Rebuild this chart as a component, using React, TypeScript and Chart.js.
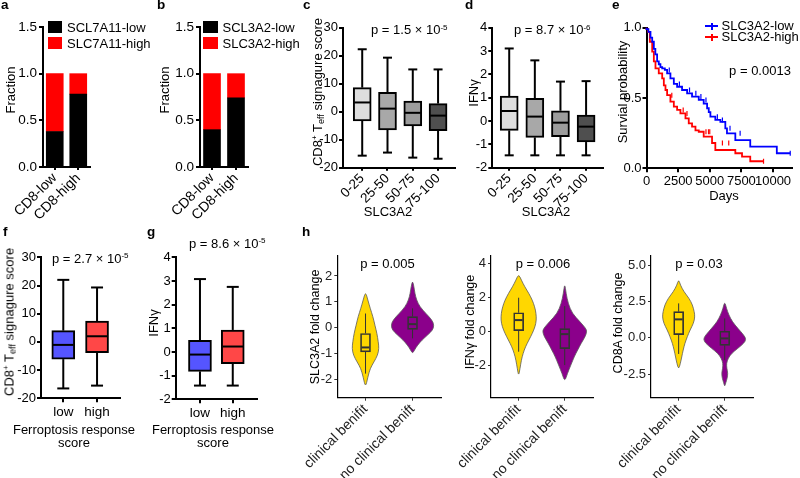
import React, { useEffect, useRef } from 'react';
import { Chart, registerables } from 'chart.js';

Chart.register(...registerables);

const FONT = 'Arial, "Liberation Sans", Helvetica, sans-serif';
Chart.defaults.font.family = FONT;
Chart.defaults.font.size = 13;
Chart.defaults.color = '#000';

// ---------- panel a / b ----------
const abCategories = ['CD8-low', 'CD8-high'];
const aLowFraction = [0.38, 0.78];
const aHighFraction = [0.62, 0.22];
const bLowFraction = [0.4, 0.74];
const bHighFraction = [0.6, 0.26];
const fractionTicks = [0, 0.5, 1, 1.5];

// ---------- panel c / d ----------
const slcGroups = ['0-25', '25-50', '50-75', '75-100'];
const slcPositions = [0, 1, 2, 3];
const cMin = [-15.7, -14.6, -16.4, -16.8];
const cQ1 = [-3.3, -6.5, -5.1, -6.8];
const cMedian = [3.3, 1.1, -0.4, -1.4];
const cQ3 = [8.6, 6.9, 3.8, 2.9];
const cMax = [22.3, 19.3, 15.1, 15.1];
const cTicks = [-20, -10, 0, 10, 20, 30];
const dMin = [-1.47, -1.47, -1.47, -1.47];
const dQ1 = [-0.4, -0.7, -0.67, -0.9];
const dMedian = [0.43, 0.19, -0.07, -0.24];
const dQ3 = [1.07, 0.97, 0.44, 0.26];
const dMax = [3.11, 2.6, 1.69, 1.71];
const dTicks = [-2, -1, 0, 1, 2, 3, 4];
const slcFills = ['#dedede', '#a8a8a8', '#9c9c9c', '#4f4f4f'];

// ---------- panel e ----------
const kmLowDays = [0, 150, 315, 450, 580, 700, 840, 970, 1100, 1240, 1450, 1630, 1890, 2160, 2420, 2810, 3210, 3600, 4130, 4520, 4790, 4920, 5050, 5440, 5840, 6230, 6360, 7020, 8200, 10300, 10800, 11360];
const kmLowSurv = [1, 0.99, 0.97, 0.93, 0.9, 0.85, 0.81, 0.76, 0.74, 0.72, 0.71, 0.7, 0.675, 0.64, 0.6, 0.58, 0.557, 0.533, 0.51, 0.486, 0.46, 0.427, 0.4, 0.367, 0.344, 0.33, 0.284, 0.249, 0.2, 0.154, 0.107, 0.107];
const kmHighDays = [0, 130, 263, 450, 580, 710, 970, 1240, 1370, 1500, 1630, 1890, 2160, 2420, 2680, 3080, 3340, 3600, 3870, 4130, 4520, 5180, 5440, 7020, 7550, 8200, 9200, 9250];
const kmHighSurv = [1, 0.99, 0.97, 0.9, 0.83, 0.76, 0.71, 0.675, 0.64, 0.59, 0.557, 0.52, 0.474, 0.438, 0.415, 0.39, 0.355, 0.32, 0.296, 0.27, 0.26, 0.225, 0.18, 0.13, 0.107, 0.083, 0.05, 0.05];
const kmLowCensorDays = [1800, 2600, 3400, 3900, 4300, 4700, 5600, 6000, 6600, 7400, 11360];
const kmLowCensorSurv = [0.7, 0.6, 0.557, 0.533, 0.51, 0.486, 0.367, 0.344, 0.284, 0.249, 0.107];
const kmHighCensorDays = [2000, 2900, 3200, 4700, 4900, 5000, 6000, 6500, 9250];
const kmHighCensorSurv = [0.52, 0.415, 0.39, 0.26, 0.26, 0.26, 0.18, 0.18, 0.05];
const daysTicks = [0, 2500, 5000, 7500, 10000];
const survTicks = [0, 0.5, 1];

// ---------- panel f / g ----------
const ferroGroups = ['low', 'high'];
const ferroPositions = [0, 1];
const fMin = [-16.5, -15.5];
const fQ1 = [-6.1, -3.8];
const fMedian = [-1.06, 2.0];
const fQ3 = [4.0, 7.4];
const fMax = [22, 19.3];
const gMin = [-1.42, -1.42];
const gQ1 = [-0.82, -0.49];
const gMedian = [-0.11, 0.23];
const gQ3 = [0.49, 0.93];
const gMax = [3.08, 2.75];
const ferroFills = ['#5555ff', '#ff4747'];

// ---------- panel h ----------
const benefitGroups = ['clinical benifit', 'no clinical benift'];
const benefitPositions = [0, 1];
const benefitFills = ['#ffd700', '#8b008b'];
const h1Lo = [-1.77, -0.41];
const h1Q1 = [-0.93, -0.06];
const h1Med = [-0.76, 0.14];
const h1Q3 = [-0.22, 0.43];
const h1Hi = [0.55, 0.75];
const h1Ticks = [-2, -1, 0, 1, 2];
const h1YellowY = [1.39, 1.07, 0.75, 0.43, 0.1, -0.22, -0.54, -0.8, -1.06, -1.32, -1.57, -1.9, -2.31];
const h1YellowW = [0, 0.05, 0.1, 0.157, 0.2, 0.243, 0.271, 0.286, 0.257, 0.179, 0.1, 0.05, 0];
const h1PurpleY = [1.82, 1.59, 1.33, 1.07, 0.81, 0.55, 0.3, 0.1, -0.09, -0.28, -0.48, -0.67, -0.86, -0.99];
const h1PurpleW = [0, 0.029, 0.05, 0.086, 0.157, 0.286, 0.414, 0.457, 0.429, 0.321, 0.2, 0.107, 0.043, 0];
const h2Lo = [-1.17, -1.95];
const h2Q1 = [0.06, -0.99];
const h2Med = [0.68, -0.14];
const h2Q3 = [1.11, 0.18];
const h2Hi = [1.99, 1.5];
const h2Ticks = [-2, 0, 2, 4];
const h2YellowY = [3.37, 3.02, 2.63, 2.24, 1.85, 1.46, 1.07, 0.68, 0.29, -0.1, -0.49, -0.88, -1.27, -1.66, -2.14, -2.59];
const h2YellowW = [0, 0.059, 0.133, 0.222, 0.296, 0.348, 0.378, 0.385, 0.356, 0.296, 0.222, 0.148, 0.096, 0.059, 0.03, 0];
const h2PurpleY = [2.83, 2.24, 1.66, 1.07, 0.58, 0.19, 0, -0.29, -0.68, -1.07, -1.46, -1.95, -2.44, -2.92];
const h2PurpleW = [0, 0.03, 0.074, 0.163, 0.333, 0.46, 0.48, 0.444, 0.356, 0.281, 0.207, 0.133, 0.059, 0];
const h3Lo = [-1.12, -1.54];
const h3Q1 = [0.21, -0.53];
const h3Med = [1.26, -0.05];
const h3Q3 = [1.79, 0.44];
const h3Hi = [2.36, 1.33];
const h3Ticks = [-2.5, 0, 2.5, 5];
const h3YellowY = [4.01, 3.62, 3.17, 2.71, 2.25, 1.79, 1.44, 0.99, 0.53, 0.07, -0.39, -0.85, -1.31, -1.77, -2.18];
const h3YellowW = [0, 0.038, 0.113, 0.226, 0.301, 0.338, 0.353, 0.323, 0.248, 0.188, 0.135, 0.098, 0.068, 0.038, 0];
const h3PurpleY = [2.48, 2.02, 1.56, 1.1, 0.64, 0.18, -0.11, -0.39, -0.73, -1.08, -1.42, -1.77, -2.11, -2.45, -2.8, -3.1, -3.37];
const h3PurpleW = [0, 0.038, 0.09, 0.165, 0.286, 0.414, 0.466, 0.414, 0.286, 0.15, 0.075, 0.038, 0.045, 0.068, 0.053, 0.023, 0];

// ---------- helpers ----------
type Rect = { x: number; y: number; w: number; h: number };
type Area = { l: number; t: number; r: number; b: number };

const fixedTicks = (vals: number[]) => (s: any) => {
  s.ticks = vals.map((v) => ({ value: v }));
};

function prismScale(extra: any, tickFont = 13, pad = 2, tickLen = 4) {
  return {
    border: { display: true, color: '#000', width: 2 },
    grid: { display: true, drawOnChartArea: false, drawTicks: true, tickLength: tickLen, color: '#000', lineWidth: 2, offset: false },
    ...extra,
    ticks: { color: '#000', font: { size: tickFont, family: FONT }, padding: pad, autoSkip: false, ...(extra.ticks || {}) },
  };
}

function ggScale(extra: any, tickFont = 13, pad = 2, lineHeight = 1.2) {
  return {
    border: { display: true, color: '#000', width: 1.2 },
    grid: { display: true, drawOnChartArea: false, drawTicks: true, tickLength: 3, color: '#333', lineWidth: 1, offset: false },
    ...extra,
    ticks: { color: '#222', font: { size: tickFont, family: FONT, lineHeight }, padding: pad, autoSkip: false, ...(extra.ticks || {}) },
  };
}

type BoxStats = {
  xs: number[]; lo: number[]; q1: number[]; med: number[]; q3: number[]; hi: number[];
  boxPx: number; capPx: number; lw: number; medLw: number; color: string;
};

function boxPlugin(s: BoxStats) {
  return {
    id: 'boxStats',
    beforeDatasetsDraw(chart: any) {
      const { ctx, scales } = chart;
      const x = scales.x, y = scales.y;
      ctx.save();
      ctx.strokeStyle = s.color;
      ctx.lineWidth = s.lw;
      s.xs.forEach((xv, i) => {
        const px = x.getPixelForValue(xv);
        const pairs: [number, number][] = [[s.q3[i], s.hi[i]], [s.q1[i], s.lo[i]]];
        pairs.forEach(([from, to]) => {
          ctx.beginPath();
          ctx.moveTo(px, y.getPixelForValue(from));
          ctx.lineTo(px, y.getPixelForValue(to));
          ctx.stroke();
          if (s.capPx > 0) {
            ctx.beginPath();
            ctx.moveTo(px - s.capPx / 2, y.getPixelForValue(to));
            ctx.lineTo(px + s.capPx / 2, y.getPixelForValue(to));
            ctx.stroke();
          }
        });
      });
      ctx.restore();
    },
    afterDatasetsDraw(chart: any) {
      const { ctx, scales } = chart;
      const x = scales.x, y = scales.y;
      ctx.save();
      ctx.strokeStyle = s.color;
      ctx.lineWidth = s.medLw;
      s.xs.forEach((xv, i) => {
        const px = x.getPixelForValue(xv);
        const py = y.getPixelForValue(s.med[i]);
        ctx.beginPath();
        ctx.moveTo(px - s.boxPx / 2 + 1, py);
        ctx.lineTo(px + s.boxPx / 2 - 1, py);
        ctx.stroke();
      });
      ctx.restore();
    },
  };
}

type Violin = { center: number; ys: number[]; hw: number[]; fill: string };

function violinPlugin(violins: Violin[]) {
  return {
    id: 'violins',
    beforeDatasetsDraw(chart: any) {
      const { ctx, scales } = chart;
      const x = scales.x, y = scales.y;
      ctx.save();
      violins.forEach((v) => {
        const right = v.ys.map((yy, i) => [x.getPixelForValue(v.center + v.hw[i]), y.getPixelForValue(yy)]);
        const left = v.ys.map((yy, i) => [x.getPixelForValue(v.center - v.hw[i]), y.getPixelForValue(yy)]);
        const loop = right.concat(left.slice(1, -1).reverse());
        const n = loop.length;
        const mid = (a: number[], b: number[]) => [(a[0] + b[0]) / 2, (a[1] + b[1]) / 2];
        ctx.beginPath();
        const start = mid(loop[n - 1], loop[0]);
        ctx.moveTo(start[0], start[1]);
        for (let i = 0; i < n; i++) {
          const p = loop[i];
          const q = loop[(i + 1) % n];
          const m = mid(p, q);
          ctx.quadraticCurveTo(p[0], p[1], m[0], m[1]);
        }
        ctx.closePath();
        ctx.fillStyle = v.fill;
        ctx.fill();
        ctx.strokeStyle = '#5a5a5a';
        ctx.lineWidth = 0.8;
        ctx.stroke();
      });
      ctx.restore();
    },
  };
}

function ChartCanvas({ box, area, build }: { box: Rect; area: Area; build: () => any }) {
  const ref = useRef<HTMLCanvasElement | null>(null);
  useEffect(() => {
    const cfg = build();
    const o = cfg.options || {};
    o.responsive = false;
    o.maintainAspectRatio = false;
    o.animation = false;
    o.devicePixelRatio = 1;
    o.events = [];
    o.layout = { padding: { left: 0, top: area.t - box.y, right: box.x + box.w - area.r, bottom: 0 } };
    o.plugins = { legend: { display: false }, tooltip: { enabled: false }, ...(o.plugins || {}) };
    o.scales.x.afterFit = (s: any) => {
      s.height = box.y + box.h - area.b;
    };
    o.scales.y.afterFit = (s: any) => {
      s.width = area.l - box.x;
    };
    cfg.options = o;
    const chart = new Chart(ref.current as HTMLCanvasElement, cfg);
    return () => chart.destroy();
  }, []);
  return (
    <canvas
      ref={ref}
      width={box.w}
      height={box.h}
      style={{ position: 'absolute', left: box.x, top: box.y, width: box.w, height: box.h }}
    />
  );
}

// ---------- chart builders ----------
function fractionChart(low: number[], high: number[]) {
  return () => ({
    type: 'bar',
    data: {
      labels: abCategories,
      datasets: [
        { data: low, backgroundColor: '#000000', barThickness: 17, borderWidth: 0, stack: 's' },
        { data: high, backgroundColor: '#ff0000', barThickness: 17, borderWidth: 0, stack: 's' },
      ],
    },
    options: {
      scales: {
        x: prismScale({ type: 'category', stacked: true, offset: true, ticks: { minRotation: 45, maxRotation: 45 } }, 14, 0, 3),
        y: prismScale({
          type: 'linear', stacked: true, min: 0, max: 1.5,
          afterBuildTicks: fixedTicks(fractionTicks),
          ticks: { callback: (v: number) => v.toFixed(1) },
        }, 13.5, 2),
      },
    },
  });
}

type PrismBoxOpts = {
  groups: string[]; pos: number[]; lo: number[]; q1: number[]; med: number[]; q3: number[]; hi: number[];
  fills: string[]; xMin: number; xMax: number; yMin: number; yMax: number; yTicks: number[];
  rotate: number; boxPx: number; capPx: number;
};

function prismBoxChart(p: PrismBoxOpts) {
  const rotated = p.rotate !== 0;
  return () => ({
    type: 'bar',
    data: {
      datasets: [
        {
          data: p.pos.map((x, i) => ({ x, y: [p.q1[i], p.q3[i]] })),
          backgroundColor: p.fills,
          borderColor: '#000',
          borderWidth: 2,
          borderSkipped: false,
          barThickness: p.boxPx,
        },
      ],
    },
    options: {
      scales: {
        x: prismScale({
          type: 'linear', min: p.xMin, max: p.xMax, offset: false,
          afterBuildTicks: fixedTicks(p.pos),
          ticks: { minRotation: p.rotate, maxRotation: p.rotate, callback: (v: number) => p.groups[v] ?? '' },
        }, 13.5, rotated ? 0 : 2, rotated ? 3 : 4),
        y: prismScale({
          type: 'linear', min: p.yMin, max: p.yMax,
          afterBuildTicks: fixedTicks(p.yTicks),
          ticks: { callback: (v: number) => String(v) },
        }, 13, 1),
      },
    },
    plugins: [
      boxPlugin({ xs: p.pos, lo: p.lo, q1: p.q1, med: p.med, q3: p.q3, hi: p.hi, boxPx: p.boxPx, capPx: p.capPx, lw: 2, medLw: 2, color: '#000' }),
    ],
  });
}

function kmChart() {
  const pts = (xs: number[], ys: number[]) => xs.map((x, i) => ({ x, y: ys[i] }));
  return () => ({
    type: 'line',
    data: {
      datasets: [
        { data: pts(kmLowDays, kmLowSurv), stepped: 'after', borderColor: '#0000ff', borderWidth: 1.8, pointRadius: 0, fill: false, clip: 6 },
        { data: pts(kmHighDays, kmHighSurv), stepped: 'after', borderColor: '#ff0000', borderWidth: 1.8, pointRadius: 0, fill: false, clip: 6 },
        { data: pts(kmLowCensorDays, kmLowCensorSurv), showLine: false, pointStyle: 'line', rotation: 90, pointRadius: 2.5, pointBorderWidth: 1.2, pointBorderColor: '#0000ff', borderColor: '#0000ff', clip: 6 },
        { data: pts(kmHighCensorDays, kmHighCensorSurv), showLine: false, pointStyle: 'line', rotation: 90, pointRadius: 2.5, pointBorderWidth: 1.2, pointBorderColor: '#ff0000', borderColor: '#ff0000', clip: 6 },
      ],
    },
    options: {
      scales: {
        x: prismScale({
          type: 'linear', min: 0, max: 11500,
          afterBuildTicks: fixedTicks(daysTicks),
          ticks: { maxRotation: 0, minRotation: 0, callback: (v: number) => String(v) },
        }, 13, 1),
        y: prismScale({
          type: 'linear', min: 0, max: 1,
          afterBuildTicks: fixedTicks(survTicks),
          ticks: { callback: (v: number) => v.toFixed(1) },
        }, 13, 1),
      },
    },
  });
}

type ViolinOpts = {
  lo: number[]; q1: number[]; med: number[]; q3: number[]; hi: number[];
  yellowY: number[]; yellowW: number[]; purpleY: number[]; purpleW: number[];
  yMin: number; yMax: number; yTicks: number[]; fmt: (v: number) => string;
};

function violinChart(p: ViolinOpts) {
  return () => ({
    type: 'bar',
    data: {
      datasets: [
        {
          data: benefitPositions.map((x, i) => ({ x, y: [p.q1[i], p.q3[i]] })),
          backgroundColor: 'rgba(0,0,0,0)',
          borderColor: '#333',
          borderWidth: 1,
          borderSkipped: false,
          barThickness: 10,
        },
      ],
    },
    options: {
      scales: {
        x: ggScale({
          type: 'linear', min: -0.6, max: 1.62, offset: false,
          afterBuildTicks: fixedTicks(benefitPositions),
          ticks: { minRotation: 45, maxRotation: 45, callback: (v: number) => benefitGroups[v] ?? '' },
        }, 14, -1, 1.5),
        y: ggScale({
          type: 'linear', min: p.yMin, max: p.yMax,
          afterBuildTicks: fixedTicks(p.yTicks),
          ticks: { callback: (v: number) => p.fmt(v) },
        }, 13),
      },
    },
    plugins: [
      violinPlugin([
        { center: 0, ys: p.yellowY, hw: p.yellowW, fill: benefitFills[0] },
        { center: 1, ys: p.purpleY, hw: p.purpleW, fill: benefitFills[1] },
      ]),
      boxPlugin({ xs: benefitPositions, lo: p.lo, q1: p.q1, med: p.med, q3: p.q3, hi: p.hi, boxPx: 10, capPx: 0, lw: 1, medLw: 2, color: '#333' }),
    ],
  });
}

// ---------- text helpers ----------
const Txt = ({ x, y, size = 13, align = 'left', bold = false, children }: any) => (
  <div
    style={{
      position: 'absolute', left: x, top: y - size * 0.85, fontSize: size, lineHeight: `${size}px`,
      fontFamily: FONT, fontWeight: bold ? 700 : 400, whiteSpace: 'nowrap', color: '#000',
      transform: align === 'center' ? 'translateX(-50%)' : undefined,
    }}
  >
    {children}
  </div>
);

const VTxt = ({ cx, cy, size = 13, children }: any) => (
  <div
    style={{
      position: 'absolute', left: cx, top: cy, fontSize: size, lineHeight: `${size}px`, fontFamily: FONT,
      whiteSpace: 'nowrap', color: '#000', transform: 'translate(-50%, -50%) rotate(-90deg)',
    }}
  >
    {children}
  </div>
);

const Sup = ({ children }: any) => (
  <span style={{ fontSize: '0.62em', position: 'relative', top: '-0.6em', lineHeight: 0 }}>{children}</span>
);
const Sub = ({ children }: any) => (
  <span style={{ fontSize: '0.7em', position: 'relative', top: '0.25em', lineHeight: 0 }}>{children}</span>
);

const TeffTitle = () => (
  <span>
    CD8<Sup>+</Sup> T<Sub>eff</Sub> signagure score
  </span>
);

const Swatch = ({ x, y, w, h, color }: any) => (
  <div style={{ position: 'absolute', left: x, top: y, width: w, height: h, background: color }} />
);

const KmKey = ({ x, y, color }: any) => (
  <>
    <div style={{ position: 'absolute', left: x, top: y - 1, width: 13, height: 2, background: color }} />
    <div style={{ position: 'absolute', left: x + 6, top: y - 3.5, width: 1.5, height: 7, background: color }} />
  </>
);

export default function App() {
  return (
    <div style={{ position: 'fixed', left: 0, top: 0, width: 800, height: 478, background: '#fff', overflow: 'hidden', fontFamily: FONT }}>
      {/* charts */}
      <ChartCanvas box={{ x: 0, y: 10, w: 150, h: 220 }} area={{ l: 43, t: 27, r: 90, b: 167 }} build={fractionChart(aLowFraction, aHighFraction)} />
      <ChartCanvas box={{ x: 150, y: 10, w: 112, h: 220 }} area={{ l: 200, t: 27, r: 248, b: 167 }} build={fractionChart(bLowFraction, bHighFraction)} />
      <ChartCanvas
        box={{ x: 298, y: 10, w: 165, h: 220 }}
        area={{ l: 343, t: 27.7, r: 455, b: 167.7 }}
        build={prismBoxChart({ groups: slcGroups, pos: slcPositions, lo: cMin, q1: cQ1, med: cMedian, q3: cQ3, hi: cMax, fills: slcFills, xMin: -0.76, xMax: 3.67, yMin: -20, yMax: 30, yTicks: cTicks, rotate: 45, boxPx: 18, capPx: 9 })}
      />
      <ChartCanvas
        box={{ x: 455, y: 10, w: 155, h: 220 }}
        area={{ l: 492.3, t: 27.7, r: 603, b: 167.7 }}
        build={prismBoxChart({ groups: slcGroups, pos: slcPositions, lo: dMin, q1: dQ1, med: dMedian, q3: dQ3, hi: dMax, fills: slcFills, xMin: -0.66, xMax: 3.66, yMin: -2, yMax: 4, yTicks: dTicks, rotate: 45, boxPx: 18, capPx: 9 })}
      />
      <ChartCanvas box={{ x: 600, y: 10, w: 200, h: 220 }} area={{ l: 646.5, t: 27.7, r: 792, b: 168.3 }} build={kmChart()} />
      <ChartCanvas
        box={{ x: 0, y: 245, w: 135, h: 233 }}
        area={{ l: 41, t: 257.3, r: 120, b: 398.3 }}
        build={prismBoxChart({ groups: ferroGroups, pos: ferroPositions, lo: fMin, q1: fQ1, med: fMedian, q3: fQ3, hi: fMax, fills: ferroFills, xMin: -0.66, xMax: 1.68, yMin: -20, yMax: 30, yTicks: cTicks, rotate: 0, boxPx: 23, capPx: 12 })}
      />
      <ChartCanvas
        box={{ x: 140, y: 245, w: 130, h: 233 }}
        area={{ l: 175.7, t: 257.3, r: 256.7, b: 399.3 }}
        build={prismBoxChart({ groups: ferroGroups, pos: ferroPositions, lo: gMin, q1: gQ1, med: gMedian, q3: gQ3, hi: gMax, fills: ferroFills, xMin: -0.74, xMax: 1.73, yMin: -2, yMax: 4, yTicks: dTicks, rotate: 0, boxPx: 23, capPx: 12 })}
      />
      <ChartCanvas
        box={{ x: 282, y: 245, w: 170, h: 233 }}
        area={{ l: 337.3, t: 256, r: 441.7, b: 397.7 }}
        build={violinChart({ lo: h1Lo, q1: h1Q1, med: h1Med, q3: h1Q3, hi: h1Hi, yellowY: h1YellowY, yellowW: h1YellowW, purpleY: h1PurpleY, purpleW: h1PurpleW, yMin: -2.7, yMax: 2.77, yTicks: h1Ticks, fmt: (v) => String(v) })}
      />
      <ChartCanvas
        box={{ x: 443, y: 245, w: 165, h: 233 }}
        area={{ l: 491, t: 256, r: 593.3, b: 397.7 }}
        build={violinChart({ lo: h2Lo, q1: h2Q1, med: h2Med, q3: h2Q3, hi: h2Hi, yellowY: h2YellowY, yellowW: h2YellowW, purpleY: h2PurpleY, purpleW: h2PurpleW, yMin: -3.86, yMax: 4.43, yTicks: h2Ticks, fmt: (v) => String(v) })}
      />
      <ChartCanvas
        box={{ x: 600, y: 245, w: 170, h: 233 }}
        area={{ l: 651, t: 256, r: 753.3, b: 397.7 }}
        build={violinChart({ lo: h3Lo, q1: h3Q1, med: h3Med, q3: h3Q3, hi: h3Hi, yellowY: h3YellowY, yellowW: h3YellowW, purpleY: h3PurpleY, purpleW: h3PurpleW, yMin: -4.13, yMax: 5.62, yTicks: h3Ticks, fmt: (v) => v.toFixed(1) })}
      />

      {/* panel letters */}
      <Txt x={1} y={9.5} size={13.5} bold>a</Txt>
      <Txt x={157} y={9.5} size={13.5} bold>b</Txt>
      <Txt x={303} y={9.5} size={13.5} bold>c</Txt>
      <Txt x={465} y={9.5} size={13.5} bold>d</Txt>
      <Txt x={612} y={9.5} size={13.5} bold>e</Txt>
      <Txt x={3} y={236} size={13.5} bold>f</Txt>
      <Txt x={147} y={236} size={13.5} bold>g</Txt>
      <Txt x={302} y={236} size={13.5} bold>h</Txt>

      {/* legends a / b */}
      <Swatch x={48} y={21} w={14} h={12} color="#000" />
      <Swatch x={48} y={37} w={14} h={12} color="#ff0000" />
      <Txt x={67} y={32.5}>SCL7A11-low</Txt>
      <Txt x={67} y={48.5}>SLC7A11-high</Txt>
      <Swatch x={203} y={21} w={15} h={12} color="#000" />
      <Swatch x={203} y={37} w={15} h={12} color="#ff0000" />
      <Txt x={222.5} y={32.5}>SCL3A2-low</Txt>
      <Txt x={222.5} y={48.5}>SLC3A2-high</Txt>

      {/* legend e */}
      <KmKey x={705} y={26} color="#0000ff" />
      <KmKey x={705} y={37} color="#ff0000" />
      <Txt x={721.5} y={30.5}>SLC3A2-low</Txt>
      <Txt x={721.5} y={41.5}>SLC3A2-high</Txt>

      {/* axis titles */}
      <VTxt cx={9.5} cy={90}>Fraction</VTxt>
      <VTxt cx={164} cy={90}>Fraction</VTxt>
      <VTxt cx={317} cy={92}><TeffTitle /></VTxt>
      <VTxt cx={473} cy={93}>IFNγ</VTxt>
      <VTxt cx={622} cy={92}>Survial probability</VTxt>
      <VTxt cx={9} cy={322}><TeffTitle /></VTxt>
      <VTxt cx={153} cy={323}>IFNγ</VTxt>
      <VTxt cx={315} cy={327} size={12.5}>SLC3A2 fold change</VTxt>
      <VTxt cx={470} cy={322} size={12.5}>IFNγ fold change</VTxt>
      <VTxt cx={618} cy={323} size={12.5}>CD8A fold change</VTxt>

      <Txt x={388} y={216} align="center">SLC3A2</Txt>
      <Txt x={546} y={216} align="center">SLC3A2</Txt>
      <Txt x={724} y={200} align="center">Days</Txt>
      <Txt x={74} y={434} align="center">Ferroptosis response</Txt>
      <Txt x={74} y={447.5} align="center">score</Txt>
      <Txt x={213} y={434} align="center">Ferroptosis response</Txt>
      <Txt x={213} y={447.5} align="center">score</Txt>

      {/* p-values */}
      <Txt x={371} y={34.5}>p = 1.5 × 10<Sup>-5</Sup></Txt>
      <Txt x={514} y={34.5}>p = 8.7 × 10<Sup>-6</Sup></Txt>
      <Txt x={760} y={75.5} align="center">p = 0.0013</Txt>
      <Txt x={52} y={263}>p = 2.7 × 10<Sup>-5</Sup></Txt>
      <Txt x={189} y={248}>p = 8.6 × 10<Sup>-5</Sup></Txt>
      <Txt x={387.5} y={268} align="center">p = 0.005</Txt>
      <Txt x={543} y={268} align="center">p = 0.006</Txt>
      <Txt x={699} y={268} align="center">p = 0.03</Txt>
    </div>
  );
}
